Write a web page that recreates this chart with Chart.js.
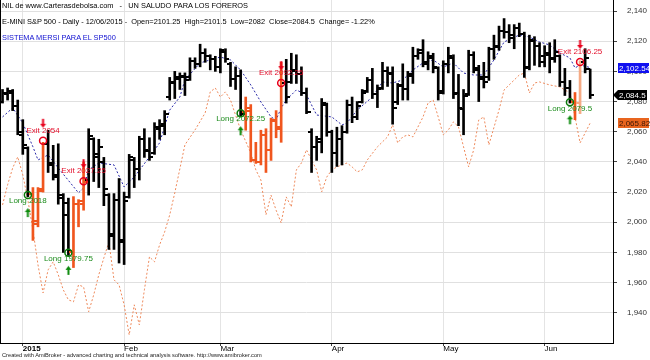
<!DOCTYPE html>
<html>
<head>
<meta charset="utf-8">
<script src="https://cdn.jsdelivr.net/npm/chart.js@4.4.1/dist/chart.umd.min.js"></script>
<style>
  body { margin: 0; background: #fff; }
  #wrap { position: relative; width: 650px; height: 360px; overflow: hidden; font-family: "Liberation Sans", Arial, sans-serif; }
  #wrap canvas { position: absolute; left: 0; top: 0; }
  .txt { position: absolute; left: 2px; white-space: pre; font-size: 7.4px; line-height: 10px; color: #000; }
  #line1 { top: 1px; }
  #line2 { top: 17px; }
  #line3 { top: 33px; color: #1010d0; }
  #footer { top: 351px; font-size: 5.7px; line-height: 8px; color: #222; }
</style>
</head>
<body>
<div id="wrap">
  <canvas id="chart" width="650" height="360"></canvas>
  <div class="txt" id="line1">NIL de www.Carterasdebolsa.com   -   UN SALUDO PARA LOS FOREROS</div>
  <div class="txt" id="line2">E-MINI S&amp;P 500 - Daily - 12/06/2015 -  Open=2101.25  High=2101.5  Low=2082  Close=2084.5  Change= -1.22%</div>
  <div class="txt" id="line3">SISTEMA MERSI PARA EL SP500</div>
  <div class="txt" id="footer">Created with AmiBroker - advanced charting and technical analysis software. http://www.amibroker.com</div>
</div>
<script>
// trading days shown on the chart
const decDays = [26, 29, 30, 31];
const janDays = [2, 5, 6, 7, 8, 9, 12, 13, 14, 15, 16, 20, 21, 22, 23, 26, 27, 28, 29, 30];
const febDays = [2, 3, 4, 5, 6, 9, 10, 11, 12, 13, 17, 18, 19, 20, 23, 24, 25, 26, 27];
const marDays = [2, 3, 4, 5, 6, 9, 10, 11, 12, 13, 16, 17, 18, 19, 20, 23, 24, 25, 26, 27, 30, 31];
const aprDays = [1, 2, 3, 6, 7, 8, 9, 10, 13, 14, 15, 16, 17, 20, 21, 22, 23, 24, 27, 28, 29, 30];
const mayDays = [1, 4, 5, 6, 7, 8, 11, 12, 13, 14, 15, 18, 19, 20, 21, 22, 26, 27, 28, 29];
const junDays = [1, 2, 3, 4, 5, 8, 9, 10, 11, 12];

const tickDates = ["2015-01-02", "2015-02-02", "2015-03-02", "2015-04-01", "2015-05-01", "2015-06-01"];
const tickLabels = ["2015", "Feb", "Mar", "Apr", "May", "Jun"];
const priceTicks = [1940, 1960, 1980, 2000, 2020, 2040, 2060, 2080, 2100, 2120, 2140];

// OHLC, one row per month
const opens = [
  2080, 2085, 2086, 2077,
  2058, 2049, 2019, 2001, 2022, 2052, 2039, 2031, 2016, 2013, 1980, 2012, 2012, 2028, 2055, 2043, 2040, 2018, 1992, 2015,
  1988, 2017, 2041, 2035, 2055, 2047, 2046, 2062, 2065, 2083, 2092, 2095, 2096, 2096, 2107, 2105, 2112, 2110, 2108,
  2103, 2113, 2105, 2095, 2097, 2073, 2074, 2041, 2040, 2058, 2048, 2067, 2062, 2092, 2093, 2100, 2098, 2086, 2060, 2050, 2055, 2078,
  2060, 2046, 2055, 2060, 2078, 2070, 2080, 2087, 2094, 2085, 2089, 2100, 2098, 2080, 2091, 2088, 2097, 2110, 2114, 2105, 2109, 2102,
  2087, 2105, 2109, 2086, 2075, 2085, 2111, 2101, 2096, 2096, 2115, 2116, 2127, 2126, 2122, 2129, 2125, 2103, 2120, 2117,
  2110, 2111, 2109, 2110, 2093, 2089, 2080, 2079, 2106, 2101.25
];
const highs = [
  2088, 2089, 2088, 2081,
  2068, 2050, 2023, 2023, 2053, 2061, 2051, 2052, 2019, 2016, 2017, 2015, 2040, 2062, 2056, 2055, 2043, 2019, 2019, 2029,
  2020, 2045, 2043, 2057, 2062, 2056, 2066, 2068, 2074, 2096, 2100, 2099, 2099, 2109, 2109, 2118, 2115, 2111, 2110,
  2115, 2115, 2106, 2103, 2101, 2083, 2078, 2053, 2061, 2062, 2069, 2074, 2106, 2108, 2112, 2111, 2103, 2089, 2062, 2057, 2082, 2079,
  2061, 2063, 2064, 2081, 2083, 2080, 2088, 2096, 2102, 2091, 2106, 2103, 2103, 2092, 2105, 2100, 2116, 2115, 2121, 2113, 2112, 2103,
  2107, 2116, 2111, 2098, 2088, 2114, 2113, 2104, 2106, 2116, 2124, 2130, 2135, 2131, 2131, 2132, 2126, 2124, 2123, 2119,
  2117, 2119, 2121, 2111, 2102, 2094, 2086, 2107, 2115, 2101.5
];
const lows = [
  2079, 2081, 2074, 2058,
  2045, 2017, 1988, 1997, 2020, 2033, 2028, 2012, 1980, 1978, 1970, 1997, 2008, 2018, 2027, 2023, 2011, 1982, 1982, 1973,
  1972, 2016, 2023, 2028, 2043, 2041, 2045, 2055, 2058, 2081, 2082, 2088, 2084, 2094, 2102, 2103, 2106, 2101, 2100,
  2099, 2106, 2090, 2088, 2070, 2061, 2040, 2039, 2038, 2033, 2041, 2056, 2053, 2079, 2092, 2092, 2084, 2072, 2033, 2041, 2046, 2057,
  2033, 2037, 2038, 2059, 2066, 2068, 2079, 2086, 2082, 2076, 2088, 2090, 2065, 2078, 2081, 2081, 2092, 2108, 2103, 2101, 2099, 2081,
  2085, 2099, 2082, 2064, 2058, 2084, 2099, 2080, 2089, 2094, 2108, 2114, 2122, 2119, 2115, 2123, 2096, 2101, 2104, 2103,
  2103, 2099, 2106, 2090, 2084, 2079, 2068, 2072, 2099, 2082
];
const closes = [
  2086, 2087, 2077, 2060,
  2051, 2019, 1999, 2021, 2052, 2038, 2030, 2018, 2005, 1981, 2012, 2014, 2027, 2057, 2045, 2050, 2022, 1991, 2015, 1987,
  2014, 2043, 2035, 2055, 2048, 2043, 2063, 2064, 2072, 2093, 2096, 2097, 2094, 2107, 2105, 2112, 2110, 2108, 2103,
  2114, 2108, 2095, 2097, 2072, 2076, 2041, 2040, 2058, 2048, 2068, 2063, 2092, 2083, 2101, 2098, 2086, 2073, 2050, 2053, 2079, 2060,
  2046, 2055, 2060, 2078, 2070, 2077, 2086, 2094, 2085, 2088, 2100, 2099, 2076, 2090, 2088, 2098, 2110, 2112, 2106, 2110, 2103, 2086,
  2105, 2110, 2085, 2076, 2084, 2111, 2102, 2095, 2093, 2115, 2117, 2127, 2126, 2124, 2129, 2125, 2102, 2121, 2117, 2106,
  2112, 2108, 2113, 2093, 2089, 2080, 2079, 2106, 2109, 2084.5
];

// blue dotted average, read at the bars where it bends
const blueLine = [
  ["2014-12-26", 2069.8], ["2014-12-30", 2075.8], ["2015-01-02", 2065.8], ["2015-01-06", 2050], ["2015-01-07", 2041.3],
  ["2015-01-09", 2044.6], ["2015-01-13", 2036], ["2015-01-20", 2019.5], ["2015-01-21", 2022.8], ["2015-01-22", 2034.7],
  ["2015-01-26", 2039.3], ["2015-01-29", 2038], ["2015-02-02", 2023.4], ["2015-02-04", 2030], ["2015-02-09", 2043.3],
  ["2015-02-11", 2052.6], ["2015-02-13", 2074.4], ["2015-02-18", 2083], ["2015-02-19", 2094.3], ["2015-02-24", 2105.6],
  ["2015-02-26", 2107.6], ["2015-03-02", 2109.5], ["2015-03-04", 2107.6], ["2015-03-06", 2100.9], ["2015-03-10", 2091],
  ["2015-03-12", 2079.7], ["2015-03-16", 2069.8], ["2015-03-17", 2067.8], ["2015-03-18", 2075.8], ["2015-03-19", 2081],
  ["2015-03-23", 2087.7], ["2015-03-25", 2084.4], ["2015-03-27", 2071.1], ["2015-04-01", 2069.8], ["2015-04-03", 2064.5],
  ["2015-04-06", 2065.8], ["2015-04-08", 2074.4], ["2015-04-13", 2083], ["2015-04-15", 2093], ["2015-04-17", 2092.3],
  ["2015-04-21", 2094.3], ["2015-04-23", 2100.9], ["2015-04-27", 2105.6], ["2015-04-29", 2107.6], ["2015-05-01", 2102.9],
  ["2015-05-05", 2105.6], ["2015-05-07", 2098.9], ["2015-05-11", 2097.6], ["2015-05-13", 2097.6], ["2015-05-15", 2107.6],
  ["2015-05-19", 2119.5], ["2015-05-22", 2124.1], ["2015-05-27", 2122.8], ["2015-05-29", 2119.5], ["2015-06-02", 2117.5],
  ["2015-06-04", 2112.2], ["2015-06-08", 2108.9], ["2015-06-09", 2102.3], ["2015-06-10", 2104.2], ["2015-06-12", 2102.54]
];

// orange dotted line
const orangeLine = [
  ["2014-12-26", 2011.5], ["2014-12-29", 2024.8], ["2014-12-30", 2036], ["2014-12-31", 2043.3], ["2015-01-02", 2031.4],
  ["2015-01-05", 2014.8], ["2015-01-06", 1995], ["2015-01-07", 1971.8], ["2015-01-08", 1953.2], ["2015-01-09", 1968.5],
  ["2015-01-12", 1973.8], ["2015-01-13", 1965.2], ["2015-01-14", 1955.2], ["2015-01-15", 1948.6], ["2015-01-16", 1947.3],
  ["2015-01-20", 1958.5], ["2015-01-21", 1957.2], ["2015-01-22", 1940.7], ["2015-01-23", 1951.9], ["2015-01-26", 1965.2],
  ["2015-01-27", 1976.4], ["2015-01-28", 1987], ["2015-01-29", 1961.9], ["2015-01-30", 1958.5], ["2015-02-02", 1945.3],
  ["2015-02-03", 1925.4], ["2015-02-04", 1945.3], ["2015-02-05", 1932], ["2015-02-06", 1955.2], ["2015-02-09", 1977.1],
  ["2015-02-10", 1973.8], ["2015-02-11", 1985], ["2015-02-12", 1993.6], ["2015-02-13", 2004.9], ["2015-02-17", 2019.5],
  ["2015-02-19", 2051.3], ["2015-02-23", 2061.2], ["2015-02-25", 2072.5], ["2015-02-26", 2086.4], ["2015-02-27", 2089],
  ["2015-03-02", 2083], ["2015-03-03", 2086.4], ["2015-03-04", 2081], ["2015-03-05", 2071], ["2015-03-06", 2061.2],
  ["2015-03-10", 2046], ["2015-03-11", 2034.7], ["2015-03-12", 2028], ["2015-03-13", 2005], ["2015-03-16", 2018],
  ["2015-03-17", 2008], ["2015-03-18", 1999.6], ["2015-03-19", 2016.8], ["2015-03-20", 2010.2], ["2015-03-23", 2034.7],
  ["2015-03-24", 2039.3], ["2015-03-25", 2048], ["2015-03-26", 2041.3], ["2015-03-27", 2034.7], ["2015-03-30", 2020.1],
  ["2015-03-31", 2030], ["2015-04-01", 2034.7], ["2015-04-02", 2036.7], ["2015-04-06", 2039.3], ["2015-04-07", 2036.7],
  ["2015-04-08", 2033.4], ["2015-04-09", 2034.7], ["2015-04-10", 2041.3], ["2015-04-14", 2050], ["2015-04-16", 2056.6],
  ["2015-04-17", 2064.5], ["2015-04-20", 2052.6], ["2015-04-21", 2056.6], ["2015-04-22", 2057.9], ["2015-04-23", 2056.6],
  ["2015-04-27", 2069.8], ["2015-04-28", 2079.1], ["2015-04-29", 2081], ["2015-04-30", 2069.8], ["2015-05-01", 2057.9],
  ["2015-05-04", 2061.2], ["2015-05-05", 2066.5], ["2015-05-06", 2063.2], ["2015-05-07", 2050], ["2015-05-08", 2036.7],
  ["2015-05-11", 2048], ["2015-05-12", 2067.8], ["2015-05-13", 2069.8], ["2015-05-14", 2051.3], ["2015-05-18", 2074.4],
  ["2015-05-19", 2087.7], ["2015-05-21", 2094.3], ["2015-05-22", 2097.6], ["2015-05-26", 2098.9], ["2015-05-27", 2085.7],
  ["2015-05-28", 2092.3], ["2015-05-29", 2093], ["2015-06-02", 2091], ["2015-06-04", 2089.7], ["2015-06-08", 2085.7],
  ["2015-06-09", 2069.8], ["2015-06-10", 2052.6], ["2015-06-11", 2059.2], ["2015-06-12", 2065.82]
];

// trades
const entryDates = ["2015-01-05", "2015-01-15", "2015-03-06", "2015-06-08"];
const entryPrices = [2018, 1979.75, 2072.25, 2079.5];
const exitDates = ["2015-01-08", "2015-01-21", "2015-03-18", "2015-06-10"];
const exitPrices = [2054, 2027.25, 2092.25, 2106.25];
const fadedBars = ["2015-06-10"];

function pad2(n) {
  return (n < 10 ? "0" : "") + n;
}

function monthDates(prefix, days) {
  return days.map(d => prefix + pad2(d));
}

const dates = [].concat(
  monthDates("2014-12-", decDays),
  monthDates("2015-01-", janDays),
  monthDates("2015-02-", febDays),
  monthDates("2015-03-", marDays),
  monthDates("2015-04-", aprDays),
  monthDates("2015-05-", mayDays),
  monthDates("2015-06-", junDays)
);
// empty space on the right of the last bar
const labels = dates.concat(["e1", "e2", "e3", "e4"]);

const FONT = "'Liberation Sans', Arial, sans-serif";
const BLACK = "#000000";
const LONG = "#f0561e";
const FADED = "#f5aa84";

// colour of every bar: orange while the system is long
const barColors = dates.map((d, i) => {
  if (fadedBars.includes(d)) return FADED;
  for (let t = 0; t < entryDates.length; t++) {
    const a = dates.indexOf(entryDates[t]);
    const b = dates.indexOf(exitDates[t]);
    if (i > a && i <= b) return LONG;
  }
  return BLACK;
});

function makeTick(color, side) {
  const c = document.createElement("canvas");
  c.width = 8;
  c.height = 2;
  const g = c.getContext("2d");
  g.fillStyle = color;
  g.fillRect(side === "left" ? 0 : 4, 0, 4, 2);
  return c;
}

function makeArrow(color, up) {
  const c = document.createElement("canvas");
  c.width = 7;
  c.height = 48;
  const g = c.getContext("2d");
  g.fillStyle = color;
  g.beginPath();
  if (up) {
    const tip = 24 + 13;
    g.moveTo(0.5, tip + 4);
    g.lineTo(3.5, tip);
    g.lineTo(6.5, tip + 4);
    g.closePath();
    g.fill();
    g.fillRect(2.5, tip + 4, 2, 5);
  } else {
    const tip = 24 - 13;
    g.moveTo(0.5, tip - 4);
    g.lineTo(3.5, tip);
    g.lineTo(6.5, tip - 4);
    g.closePath();
    g.fill();
    g.fillRect(2.5, tip - 9, 2, 5);
  }
  return c;
}

const tickImages = {};
[BLACK, LONG, FADED].forEach(c => {
  tickImages[c] = { left: makeTick(c, "left"), right: makeTick(c, "right") };
});
const upArrow = makeArrow("#0b8a0b", true);
const downArrow = makeArrow("#e8001c", false);

function fmt(v) {
  const parts = String(v).split(".");
  parts[0] = parts[0].replace(/\B(?=(\d{3})+(?!\d))/g, ",");
  return parts.join(".");
}

const tradeLabels = {
  id: "tradeLabels",
  afterDatasetsDraw(chart) {
    const { ctx } = chart;
    const x = chart.scales.x;
    const y = chart.scales.y;
    ctx.save();
    ctx.font = "8px " + FONT;
    ctx.textAlign = "center";
    ctx.textBaseline = "middle";
    ctx.fillStyle = "#1c8c1c";
    entryDates.forEach((d, i) => {
      const px = x.getPixelForValue(labels.indexOf(d));
      ctx.fillText("Long " + entryPrices[i], px, y.getPixelForValue(entryPrices[i]) + 6);
    });
    ctx.fillStyle = "#e4102c";
    exitDates.forEach((d, i) => {
      const px = x.getPixelForValue(labels.indexOf(d));
      ctx.fillText("Exit " + exitPrices[i], px, y.getPixelForValue(exitPrices[i]) - 10);
    });
    ctx.restore();
  }
};

const axisBoxes = {
  id: "axisBoxes",
  afterDraw(chart) {
    const { ctx, chartArea } = chart;
    const y = chart.scales.y;
    const right = chartArea.right;
    ctx.save();
    // left frame line
    ctx.strokeStyle = "#000";
    ctx.lineWidth = 1;
    ctx.beginPath();
    ctx.moveTo(chartArea.left + 0.5, chartArea.top);
    ctx.lineTo(chartArea.left + 0.5, chartArea.bottom);
    ctx.stroke();

    ctx.font = "8px " + FONT;
    ctx.textBaseline = "middle";
    ctx.textAlign = "left";
    const boxes = [
      { v: blueLine[blueLine.length - 1][1], bg: "#1010f0", fg: "#ffffff", arrow: false },
      { v: orangeLine[orangeLine.length - 1][1], bg: "#e8641e", fg: "#3a1606", arrow: false },
      { v: closes[closes.length - 1], bg: "#000000", fg: "#ffffff", arrow: true }
    ];
    boxes.forEach(b => {
      const py = Math.round(y.getPixelForValue(b.v));
      ctx.fillStyle = b.bg;
      if (b.arrow) {
        ctx.beginPath();
        ctx.moveTo(right, py);
        ctx.lineTo(right + 5, py - 5);
        ctx.lineTo(right + 34, py - 5);
        ctx.lineTo(right + 34, py + 5);
        ctx.lineTo(right + 5, py + 5);
        ctx.closePath();
        ctx.fill();
      } else {
        ctx.fillRect(right + 5, py - 5, 31, 10);
      }
      ctx.fillStyle = b.fg;
      ctx.fillText(fmt(b.v), right + 6, py + 0.5);
    });
    ctx.restore();
  }
};

Chart.defaults.font.family = FONT;
Chart.defaults.font.size = 8;
Chart.defaults.color = "#000";

const pts = arr => arr.map(p => ({ x: p[0], y: p[1] }));

function noPadding(scale) {
  scale.paddingTop = 0;
  scale.paddingBottom = 0;
  scale.paddingLeft = 0;
  scale.paddingRight = 0;
}

new Chart(document.getElementById("chart"), {
  type: "bar",
  data: {
    labels: labels,
    datasets: [
      {
        type: "line",
        data: pts(orangeLine),
        borderColor: "#ee8a5c",
        borderWidth: 1,
        borderDash: [2, 2],
        pointRadius: 0,
        order: 10
      },
      {
        type: "line",
        data: pts(blueLine),
        borderColor: "#2a2aa8",
        borderWidth: 1,
        borderDash: [2, 2],
        pointRadius: 0,
        order: 9
      },
      {
        type: "bar",
        data: dates.map((d, i) => [lows[i], highs[i]]),
        backgroundColor: barColors,
        barThickness: 2,
        borderWidth: 0,
        order: 5
      },
      {
        type: "line",
        data: opens,
        showLine: false,
        pointStyle: barColors.map(c => tickImages[c].left),
        order: 4
      },
      {
        type: "line",
        data: closes,
        showLine: false,
        pointStyle: barColors.map(c => tickImages[c].right),
        order: 4
      },
      {
        type: "line",
        data: entryDates.map((d, i) => ({ x: d, y: entryPrices[i] })),
        showLine: false,
        pointStyle: "circle",
        pointRadius: 3.5,
        borderWidth: 1.5,
        borderColor: "#0b7a0b",
        backgroundColor: "rgba(255,255,255,0)",
        order: 2
      },
      {
        type: "line",
        data: exitDates.map((d, i) => ({ x: d, y: exitPrices[i] })),
        showLine: false,
        pointStyle: "circle",
        pointRadius: 3.5,
        borderWidth: 1.5,
        borderColor: "#e8001c",
        backgroundColor: "rgba(255,255,255,0)",
        order: 2
      },
      {
        type: "line",
        data: entryDates.map((d, i) => ({ x: d, y: entryPrices[i] })),
        showLine: false,
        pointStyle: upArrow,
        order: 1
      },
      {
        type: "line",
        data: exitDates.map((d, i) => ({ x: d, y: exitPrices[i] })),
        showLine: false,
        pointStyle: downArrow,
        order: 1
      }
    ]
  },
  options: {
    responsive: false,
    devicePixelRatio: 1,
    animation: false,
    events: [],
    layout: { padding: 0, autoPadding: false },
    plugins: {
      legend: { display: false },
      tooltip: { enabled: false }
    },
    scales: {
      x: {
        type: "category",
        offset: true,
        grid: {
          offset: false,
          color: ctx => tickDates.includes(labels[ctx.index]) ? "#e4e4e4" : "rgba(0,0,0,0)",
          tickColor: ctx => tickDates.includes(labels[ctx.index]) ? "#444" : "rgba(0,0,0,0)",
          tickLength: 3
        },
        border: { color: "#000", width: 1 },
        ticks: {
          autoSkip: false,
          maxRotation: 0,
          minRotation: 0,
          align: "start",
          padding: -2,
          font: ctx => ({ size: 8, weight: ctx.tick && ctx.tick.label === "2015" ? "bold" : "normal" }),
          callback: (v, i) => {
            const t = tickDates.indexOf(labels[i]);
            return t >= 0 ? tickLabels[t] : "";
          }
        },
        afterFit: scale => {
          scale.height = 17;
          noPadding(scale);
        }
      },
      y: {
        position: "right",
        min: 1920,
        max: 2147.3,
        grid: { color: "#e0e0e0", tickColor: "#444", tickLength: 4 },
        border: { color: "#000", width: 1 },
        ticks: {
          padding: 10,
          color: "#333",
          font: { size: 8 },
          callback: v => fmt(v)
        },
        afterBuildTicks: scale => { scale.ticks = priceTicks.map(v => ({ value: v })); },
        afterFit: scale => {
          scale.width = 37;
          noPadding(scale);
        }
      }
    }
  },
  plugins: [tradeLabels, axisBoxes]
});
</script>
</body>
</html>
